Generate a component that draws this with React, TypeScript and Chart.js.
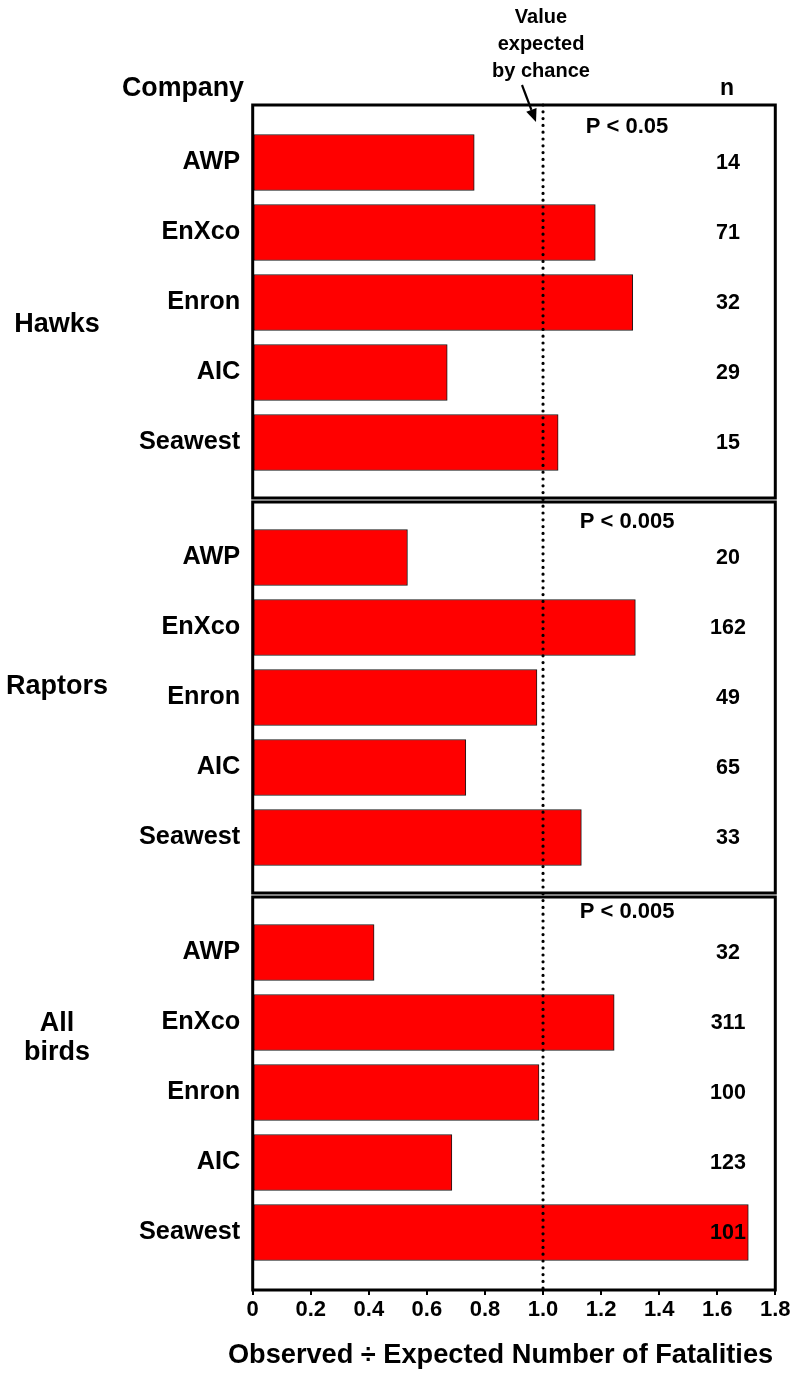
import React, { useEffect, useRef } from 'react';
import { Chart, registerables } from 'chart.js';

Chart.register(...registerables);

// ---------- data ----------
const companies = ['AWP', 'EnXco', 'Enron', 'AIC', 'Seawest'];
const groupNames = ['Hawks', 'Raptors', 'All birds'];
const hawksRatio = [0.763, 1.18, 1.309, 0.67, 1.052];
const raptorsRatio = [0.533, 1.318, 0.979, 0.734, 1.132];
const allBirdsRatio = [0.418, 1.245, 0.986, 0.686, 1.707];
const hawksN = [14, 71, 32, 29, 15];
const raptorsN = [20, 162, 49, 65, 33];
const allBirdsN = [32, 311, 100, 123, 101];
const pLabels = ['P < 0.05', 'P < 0.005', 'P < 0.005'];
const xTickLabels = ['0', '0.2', '0.4', '0.6', '0.8', '1.0', '1.2', '1.4', '1.6', '1.8'];
const expectedValue = 1.0;
const xMin = 0;
const xMax = 1.8;
const xStep = 0.2;
const referenceLabel = ['Value', 'expected', 'by chance'];
const xTitle = 'Observed \u00f7 Expected Number of Fatalities';
const companyHeader = 'Company';
const nHeader = 'n';

const ratios = [hawksRatio, raptorsRatio, allBirdsRatio];
const nValues = [hawksN, raptorsN, allBirdsN];

// ---------- layout / style ----------
const W = 796;
const H = 1373;
const FONT = "'Liberation Sans', Arial, Helvetica, sans-serif";
const PANEL_INNER_PAD = 22.5;
const PANEL_GAP = 2;
const P_OFFSETS = [22, 22, 16.5];
const N_X = 728;
const BAR_RED = '#ff0000';

function txt(ctx: CanvasRenderingContext2D, s: string, x: number, y: number, size: number, align: CanvasTextAlign) {
  ctx.font = `bold ${size}px ${FONT}`;
  ctx.fillStyle = '#000';
  ctx.textAlign = align;
  ctx.textBaseline = 'middle';
  ctx.fillText(s, x, y);
}

const panelPlugin = {
  id: 'panelPlugin',
  afterLayout(chart: any) {
    const ca = chart.chartArea;
    const h = (ca.bottom - ca.top) / 3;
    for (let i = 0; i < 3; i++) {
      const s = chart.scales['y' + i];
      s.top = ca.top + i * h + PANEL_INNER_PAD;
      s.bottom = ca.top + (i + 1) * h - PANEL_INNER_PAD;
      s.height = s.bottom - s.top;
      s.configure();
    }
  },
  afterDraw(chart: any) {
    const ctx: CanvasRenderingContext2D = chart.ctx;
    const ca = chart.chartArea;
    const h = (ca.bottom - ca.top) / 3;
    const xs = chart.scales.x;
    const xRef = xs.getPixelForValue(expectedValue);
    ctx.save();

    // dotted reference line
    ctx.beginPath();
    ctx.strokeStyle = '#000';
    ctx.lineWidth = 3.2;
    ctx.lineCap = 'round';
    ctx.setLineDash([0, 6.8]);
    ctx.moveTo(xRef, ca.top);
    ctx.lineTo(xRef, ca.bottom);
    ctx.stroke();
    ctx.setLineDash([]);

    // panel boxes
    ctx.lineWidth = 3;
    ctx.lineCap = 'butt';
    for (let i = 0; i < 3; i++) {
      const top = ca.top + i * h + (i > 0 ? PANEL_GAP : 0);
      const bottom = ca.top + (i + 1) * h - (i < 2 ? PANEL_GAP : 0);
      ctx.strokeRect(ca.left, top, ca.right - ca.left, bottom - top);
      // p label
      txt(ctx, pLabels[i], xRef + 84, ca.top + i * h + P_OFFSETS[i], 22, 'center');
      // n labels
      const ys = chart.scales['y' + i];
      nValues[i].forEach((n, j) => {
        txt(ctx, String(n), N_X, ys.getPixelForValue(j) + 1, 21.5, 'center');
      });
    }

    // group labels
    txt(ctx, groupNames[0], 57, 325, 27, 'center');
    txt(ctx, groupNames[1], 57, 687, 27, 'center');
    const parts = groupNames[2].split(' ');
    txt(ctx, parts[0], 57, 1024, 27, 'center');
    txt(ctx, parts[1], 57, 1053, 27, 'center');

    // headers
    txt(ctx, companyHeader, 244, 89, 26.8, 'right');
    txt(ctx, nHeader, N_X - 1, 89, 23, 'center');

    // reference annotation
    referenceLabel.forEach((line, k) => txt(ctx, line, 541, 17 + k * 27, 20, 'center'));
    const tail = { x: 522, y: 85 };
    const tip = { x: 536, y: 122 };
    const ang = Math.atan2(tip.y - tail.y, tip.x - tail.x);
    const headLen = 13;
    const headHalf = 5.5;
    const bx = tip.x - headLen * Math.cos(ang);
    const by = tip.y - headLen * Math.sin(ang);
    ctx.beginPath();
    ctx.lineWidth = 2.2;
    ctx.moveTo(tail.x, tail.y);
    ctx.lineTo(bx, by);
    ctx.stroke();
    ctx.beginPath();
    ctx.moveTo(tip.x, tip.y);
    ctx.lineTo(bx + headHalf * Math.sin(ang), by - headHalf * Math.cos(ang));
    ctx.lineTo(bx - headHalf * Math.sin(ang), by + headHalf * Math.cos(ang));
    ctx.closePath();
    ctx.fillStyle = '#000';
    ctx.fill();

    // x axis title
    txt(ctx, xTitle, 500.5, 1356, 27.2, 'center');
    ctx.restore();
  },
};

function yScale(i: number) {
  return {
    type: 'category',
    labels: companies,
    position: 'left',
    stack: 'panels',
    stackWeight: 1,
    weight: 3 - i,
    offset: true,
    grid: { display: false, drawTicks: false },
    border: { display: false },
    ticks: {
      color: '#000',
      padding: 12.5,
      autoSkip: false,
      font: { family: FONT, size: 25.3, weight: 'bold' },
    },
    afterFit: (s: any) => {
      s.width = 252.7;
    },
  };
}

export default function App() {
  const ref = useRef<HTMLCanvasElement>(null);
  useEffect(() => {
    if (!ref.current) return;
    const chart = new Chart(ref.current, {
      type: 'bar',
      data: {
        labels: companies,
        datasets: ratios.map((vals, i) => ({
          label: groupNames[i],
          data: vals,
          xAxisID: 'x',
          yAxisID: 'y' + i,
          grouped: false,
          backgroundColor: BAR_RED,
          borderColor: '#1a1a1a',
          borderWidth: 1,
          borderSkipped: false,
          barThickness: 56,
        })),
      },
      options: {
        indexAxis: 'y',
        responsive: false,
        maintainAspectRatio: false,
        animation: false,
        devicePixelRatio: 1,
        layout: { padding: { top: 105, right: W - 775.3, bottom: 0, left: 0 } },
        plugins: {
          legend: { display: false },
          tooltip: { enabled: false },
        },
        scales: {
          x: {
            type: 'linear',
            position: 'bottom',
            min: xMin,
            max: xMax,
            grid: {
              display: true,
              drawOnChartArea: false,
              drawTicks: true,
              tickLength: 5,
              color: '#000',
              lineWidth: 2,
            },
            border: { display: false },
            ticks: {
              stepSize: xStep,
              autoSkip: false,
              maxRotation: 0,
              padding: 2,
              color: '#000',
              font: { family: FONT, size: 22, weight: 'bold' },
              callback: (_v: any, idx: number) => xTickLabels[idx],
            },
            afterFit: (s: any) => {
              s.height = H - 1290;
            },
          },
          y0: yScale(0),
          y1: yScale(1),
          y2: yScale(2),
        } as any,
      },
      plugins: [panelPlugin],
    } as any);
    return () => chart.destroy();
  }, []);

  return (
    <div style={{ position: 'absolute', left: 0, top: 0, width: W, height: H, background: '#fff' }}>
      <canvas ref={ref} width={W} height={H} style={{ display: 'block', width: W, height: H }} />
    </div>
  );
}
